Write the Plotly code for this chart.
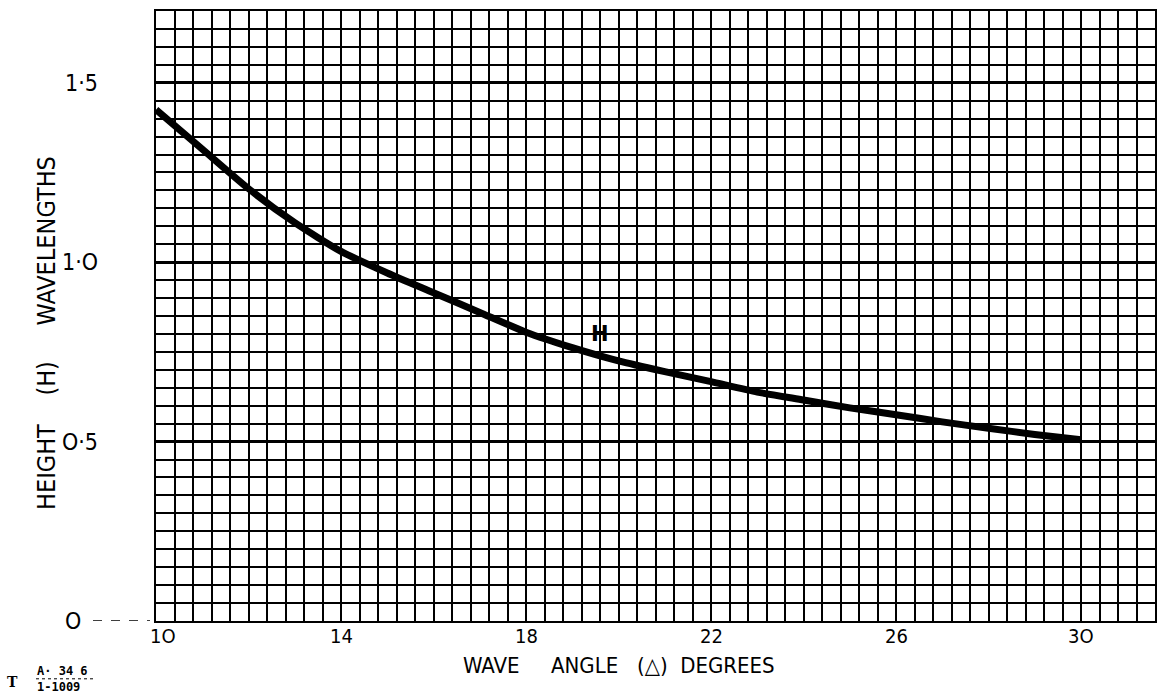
import plotly.graph_objects as go

# ---- data ----
angle_deg = [10, 11, 12, 13, 14, 15, 16, 17, 18, 19, 20, 21, 22, 23, 24, 25, 26, 27, 28, 29, 30]
height_wl = [1.425, 1.315, 1.205, 1.11, 1.03, 0.97, 0.915, 0.86, 0.805, 0.762, 0.725,
             0.695, 0.667, 0.638, 0.616, 0.594, 0.575, 0.555, 0.537, 0.52, 0.505]
x_tick_vals = [10, 14, 18, 22, 26, 30]
x_tick_text = ["1O", "14", "18", "22", "26", "3O"]
y_tick_vals = [0, 0.5, 1.0, 1.5]
y_tick_text = ["O", "O·5", "1·O", "1·5"]

NARROW = "Liberation Sans Narrow, DejaVu Sans Condensed, Arial Narrow, DejaVu Sans, sans-serif"
NB = "\u00a0"

fig = go.Figure()
fig.add_trace(go.Scatter(
    x=angle_deg, y=height_wl, mode="lines",
    line=dict(color="black", width=7, shape="spline", smoothing=0.6),
    hoverinfo="skip", showlegend=False,
))

fig.update_layout(
    width=1168, height=697,
    margin=dict(l=156, r=13, t=9, b=76),
    paper_bgcolor="white", plot_bgcolor="white",
    showlegend=False,
    xaxis=dict(
        range=[10, 31.6], tick0=10, dtick=4, showticklabels=False,
        showgrid=True, gridcolor="black", gridwidth=1.7,
        minor=dict(tick0=10, dtick=0.4, showgrid=True, gridcolor="black", gridwidth=1.6),
        showline=True, linecolor="black", linewidth=2, mirror=True,
        zeroline=False, ticks="",
    ),
    yaxis=dict(
        range=[0, 1.7], tick0=0, dtick=0.5, showticklabels=False,
        showgrid=True, gridcolor="black", gridwidth=2.6,
        minor=dict(tick0=0, dtick=0.05, showgrid=True, gridcolor="black", gridwidth=1.5),
        showline=True, linecolor="black", linewidth=2, mirror=True,
        zeroline=False, ticks="",
    ),
)

annotations = []
for v, t in zip(x_tick_vals, x_tick_text):
    annotations.append(dict(
        x=v, y=0, xref="x", yref="paper", text=t, showarrow=False,
        xanchor="center", yanchor="middle", yshift=-15,
        xshift=7 if v == 10 else 0,
        font=dict(family=NARROW, size=20, color="black"),
    ))
for v, t in zip(y_tick_vals, y_tick_text):
    annotations.append(dict(
        x=0, y=v, xref="paper", yref="y", text=t, showarrow=False,
        xanchor="right", yanchor="middle",
        xshift=-73 if v == 0 else -56,
        font=dict(family=NARROW, size=23, color="black"),
    ))

annotations.append(dict(
    x=0.5, y=0, xref="paper", yref="paper",
    text="WAVE" + NB * 5 + "ANGLE" + NB * 3 + "(△)" + NB * 2 + "DEGREES",
    showarrow=False, xanchor="center", yanchor="middle",
    xshift=619 - (156 + 999 / 2), yshift=-44,
    font=dict(family=NARROW, size=22, color="black"),
))
annotations.append(dict(
    x=0, y=0, xref="paper", yref="paper",
    text="HEIGHT" + NB * 4 + "(H)" + NB * 5 + "WAVELENGTHS",
    textangle=-90, showarrow=False, xanchor="center", yanchor="middle",
    xshift=46 - 156, yshift=621 - 333,
    font=dict(family=NARROW, size=25, color="black"),
))
annotations.append(dict(
    x=19.61, y=0.80, xref="x", yref="y", text="<b>H</b>", showarrow=False,
    font=dict(family="DejaVu Sans, sans-serif", size=21, color="black"),
))
# reference code at bottom-left
annotations.append(dict(
    x=0, y=0, xref="paper", yref="paper", text="<b>T</b>", showarrow=False,
    xanchor="center", yanchor="middle", xshift=12 - 156, yshift=-(682 - 621),
    font=dict(family="DejaVu Serif, serif", size=14, color="black"),
))
annotations.append(dict(
    x=0, y=0, xref="paper", yref="paper", text="<b>A· 34 6</b>", showarrow=False,
    xanchor="left", yanchor="middle", xshift=35 - 156, yshift=-(671 - 621),
    font=dict(family="DejaVu Sans Mono, monospace", size=12, color="black"),
))
annotations.append(dict(
    x=0, y=0, xref="paper", yref="paper", text="<b>1-1009</b>", showarrow=False,
    xanchor="left", yanchor="middle", xshift=35 - 156, yshift=-(687 - 621),
    font=dict(family="DejaVu Sans Mono, monospace", size=12, color="black"),
))
fig.update_layout(annotations=annotations)

fig.add_shape(type="line", xref="paper", yref="y",
              x0=(93 - 156) / 999, x1=(150 - 156) / 999, y0=0, y1=0,
              line=dict(color="black", width=1.5, dash="dash"))
fig.add_shape(type="line", xref="paper", yref="paper",
              x0=(36 - 156) / 999, x1=(95 - 156) / 999, y0=-(679 - 621) / 612, y1=-(679 - 621) / 612,
              line=dict(color="black", width=1, dash="dot"))

fig.write_html("out.html")
